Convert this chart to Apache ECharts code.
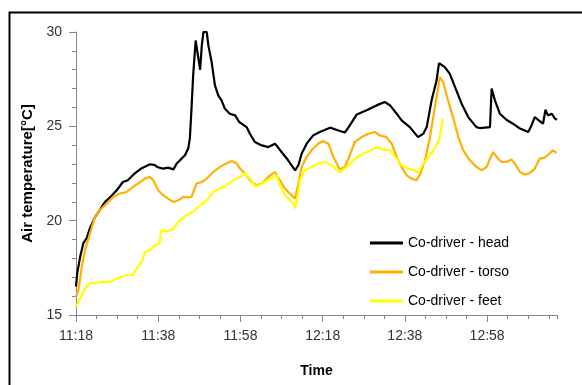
<!DOCTYPE html>
<html>
<head>
<meta charset="utf-8">
<script src="https://cdn.jsdelivr.net/npm/echarts@6/dist/echarts.min.js"></script>
<style>
html,body{margin:0;padding:0;background:#fff;}
#chart{width:582px;height:385px;}
</style>
</head>
<body>
<div id="chart"></div>
<script>
// minutes after 11:18
var xTickLabels = ['11:18','11:38','11:58','12:18','12:38','12:58'];
var seriesNames = ['Co-driver - head','Co-driver - torso','Co-driver - feet'];

var headTime = [0,0.3,1.0,1.8,2.6,3.4,4.6,5.8,7.0,8.3,9.9,11.4,12.6,14.3,16.0,18.0,19.2,19.9,21.2,22.4,23.7,24.5,25.7,26.5,27.3,27.7,28.1,28.5,29.1,30.2,30.6,31.0,31.8,32.2,33.0,33.8,34.6,35.4,36.2,37.4,38.7,39.7,41.5,42.3,43.5,45.2,46.8,48.4,50.0,51.6,53.3,54.1,54.9,56.1,57.7,59.3,61.8,64.2,65.4,66.6,68.3,70.7,73.1,75.1,76.4,78.0,79.2,81.2,83.2,84.5,85.3,86.5,87.7,88.3,89.7,90.9,92.2,93.8,95.4,97.4,98.2,100.7,101.1,101.9,103.1,104.7,106.3,108.0,110.0,110.8,111.6,112.8,113.6,114.2,114.8,115.7,116.5,117.0];
var headTemp = [16.50,17.22,18.07,18.81,19.07,19.60,20.19,20.56,20.98,21.24,21.61,22.05,22.14,22.51,22.78,22.99,22.94,22.83,22.76,22.81,22.72,23.03,23.29,23.47,23.82,24.37,25.95,27.70,29.55,28.0,29.29,30.0,30.0,29.29,28.40,27.17,26.64,26.38,25.94,25.67,25.58,25.23,24.96,24.61,24.17,23.99,23.90,24.08,23.64,23.20,22.67,22.94,23.56,24.08,24.52,24.70,24.93,24.75,24.67,25.05,25.63,25.85,26.11,26.29,26.11,25.67,25.32,24.96,24.43,24.61,24.96,26.38,27.43,28.35,28.14,27.79,27.08,26.20,25.49,24.96,24.91,24.96,27.0,26.38,25.67,25.35,25.14,24.88,24.70,25.05,25.49,25.28,25.14,25.88,25.58,25.67,25.41,25.35];

var torsoTime = [0,0.6,1.4,2.2,3.4,4.6,5.8,7.5,9.1,10.7,12.3,13.9,15.1,16.8,18.0,18.8,20.0,21.2,22.4,23.7,24.9,26.1,27.3,28.1,29.3,30.6,31.8,33.4,35.0,36.6,37.9,39.1,39.9,41.1,42.7,43.9,45.2,46.8,48.4,49.6,50.8,52.0,53.3,54.1,54.9,56.1,57.3,58.9,60.1,61.4,62.6,64.2,65.4,66.6,67.8,69.5,71.1,72.7,73.9,75.5,76.8,78.0,79.2,80.4,81.6,82.8,83.6,84.9,86.1,87.3,88.5,89.3,90.5,91.7,93.0,94.2,95.8,97.4,98.7,99.9,100.7,101.5,102.3,103.5,104.7,105.9,106.7,108.0,109.2,110.4,111.6,112.8,114.0,115.2,116.0,116.9];
var torsoTemp = [15.97,16.32,17.56,18.44,19.32,20.20,20.56,20.91,21.26,21.44,21.52,21.79,21.97,22.23,22.32,22.14,21.61,21.35,21.17,20.99,21.08,21.26,21.23,21.26,21.97,22.05,22.23,22.58,22.85,23.03,23.16,23.03,22.76,22.50,22.05,21.88,21.97,22.32,22.58,22.14,21.70,21.44,21.17,21.97,22.85,23.38,23.73,24.08,24.22,24.08,23.38,22.71,22.85,23.47,24.17,24.43,24.61,24.70,24.52,24.43,24.08,23.38,22.85,22.41,22.23,22.14,22.41,23.20,24.43,26.02,27.61,27.35,26.38,25.49,24.43,23.73,23.20,22.85,22.67,22.85,23.29,23.64,23.38,23.11,23.11,23.24,23.03,22.58,22.44,22.53,22.76,23.29,23.34,23.56,23.73,23.59];

var feetTime = [0,1.0,2.2,3.4,5.0,6.6,8.3,9.5,11.1,12.7,13.9,14.8,16.0,16.8,18.0,19.2,20.3,20.8,22.1,23.7,24.9,26.9,28.5,30.2,31.8,33.4,35.0,36.6,38.2,39.9,41.1,42.3,43.5,44.7,46.4,48.0,48.8,49.6,50.8,52.0,52.8,53.3,53.9,54.5,55.7,57.3,58.9,60.5,62.2,63.0,64.2,65.4,66.6,68.3,69.9,71.5,73.1,74.7,76.4,78.0,79.2,80.8,82.4,83.2,84.5,86.1,86.9,87.7,88.5,89.2];
var feetTemp = [15.44,15.88,16.41,16.68,16.71,16.76,16.76,16.89,17.03,17.12,17.12,17.47,17.82,18.35,18.44,18.70,18.79,19.50,19.41,19.59,19.94,20.29,20.47,20.82,21.08,21.52,21.70,21.88,22.14,22.32,22.50,22.23,21.83,21.88,22.14,22.29,22.41,21.88,21.35,21.08,20.91,20.65,21.26,22.14,22.67,22.85,23.03,23.11,22.94,22.76,22.58,22.76,23.03,23.34,23.56,23.69,23.90,23.77,23.73,23.29,22.94,22.76,22.67,22.53,23.03,23.47,23.73,24.0,24.43,25.41];

function zip(t, v) {
  var out = [];
  var n = Math.min(t.length, v.length);
  for (var i = 0; i < n; i++) out.push([t[i], v[i]]);
  return out;
}

var FONT = 'Liberation Sans';
var chart = echarts.init(document.getElementById('chart'), null, {renderer: 'canvas'});
var majorTicks = xTickLabels.map(function (_, i) { return i * 20; });

chart.setOption({
  animation: false,
  backgroundColor: '#ffffff',
  grid: {left: 76, right: 25, top: 32, bottom: 70, containLabel: false},
  graphic: [{
    type: 'rect', left: 7, top: 10, z: 100,
    shape: {x: 0, y: 0, width: 620, height: 420},
    style: {fill: 'none', stroke: '#000', lineWidth: 2}
  }],
  legend: {
    orient: 'vertical', left: 365, top: 231,
    icon: 'rect',
    itemWidth: 33, itemHeight: 3, itemGap: 15,
    textStyle: {fontFamily: FONT, fontSize: 14, lineHeight: 14, color: '#000'},
    data: seriesNames
  },
  xAxis: [{
    type: 'value', min: 0, max: 117, interval: 5,
    splitLine: {show: false},
    axisLine: {lineStyle: {color: '#868686', width: 1}},
    axisTick: {length: 4, lineStyle: {color: '#868686'}},
    axisLabel: {
      margin: 14, fontFamily: FONT, fontSize: 14, color: '#333',
      formatter: function (v) {
        if (v % 20 === 0 && v / 20 < xTickLabels.length) return xTickLabels[v / 20];
        return '';
      }
    },
    name: 'Time', nameLocation: 'middle', nameGap: 49,
    nameTextStyle: {fontFamily: FONT, fontSize: 14, fontWeight: 'bold', color: '#000'}
  }, {
    type: 'value', min: 0, max: 117, interval: 20, position: 'bottom',
    splitLine: {show: false},
    axisLine: {show: false},
    axisLabel: {show: false},
    axisTick: {length: 7, lineStyle: {color: '#868686'}, customValues: majorTicks}
  }],
  yAxis: {
    type: 'value', min: 15, max: 30, interval: 5,
    splitLine: {show: false},
    axisLine: {show: true, lineStyle: {color: '#868686', width: 1}},
    axisTick: {show: true, length: 7, lineStyle: {color: '#868686'}},
    minorTick: {show: true, splitNumber: 5, length: 4, lineStyle: {color: '#868686'}},
    axisLabel: {margin: 14, fontFamily: FONT, fontSize: 14, color: '#333'},
    name: 'Air temperature[°C]', nameLocation: 'middle', nameRotate: 90, nameGap: 40,
    nameTextStyle: {fontFamily: FONT, fontSize: 15, fontWeight: 'bold', color: '#000'}
  },
  series: [{
    name: seriesNames[0], type: 'line', xAxisIndex: 0, symbol: 'none',
    lineStyle: {color: '#000000', width: 2.2}, itemStyle: {color: '#000000'},
    data: zip(headTime, headTemp)
  }, {
    name: seriesNames[1], type: 'line', xAxisIndex: 0, symbol: 'none',
    lineStyle: {color: '#FFB000', width: 2.2}, itemStyle: {color: '#FFB000'},
    data: zip(torsoTime, torsoTemp)
  }, {
    name: seriesNames[2], type: 'line', xAxisIndex: 0, symbol: 'none',
    lineStyle: {color: '#FFFF00', width: 2.2}, itemStyle: {color: '#FFFF00'},
    data: zip(feetTime, feetTemp)
  }]
});
</script>
</body>
</html>
